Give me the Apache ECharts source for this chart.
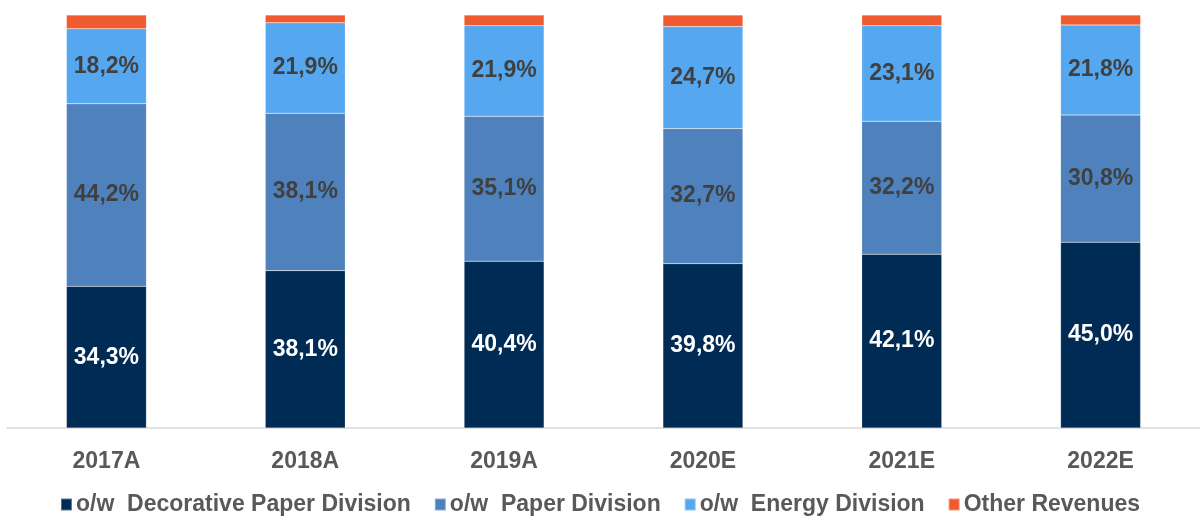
<!DOCTYPE html>
<html>
<head>
<meta charset="utf-8">
<style>
  html, body { margin: 0; padding: 0; background: #fff; }
  #chart { width: 1200px; height: 516px; }
</style>
<script src="https://cdn.jsdelivr.net/npm/echarts@6/dist/echarts.min.js"></script>
</head>
<body>
<div id="chart"></div>
<script>
// Revenue mix by division, share of total (%)
const years = ['2017A', '2018A', '2019A', '2020E', '2021E', '2022E'];
const decorative = [34.3, 38.1, 40.4, 39.8, 42.1, 45.0];
const paper = [44.2, 38.1, 35.1, 32.7, 32.2, 30.8];
const energy = [18.2, 21.9, 21.9, 24.7, 23.1, 21.8];
const other = [3.3, 1.9, 2.6, 2.8, 2.6, 2.4];

const seriesNames = [
  'o/w  Decorative Paper Division',
  'o/w  Paper Division',
  'o/w  Energy Division',
  'Other Revenues'
];
const colors = ['#002B55', '#4F81BD', '#55A8F0', '#F05A30'];

const fmt = p => p.value.toFixed(1).replace('.', ',') + '%';
const font = 'Liberation Sans, Arial, sans-serif';

function makeSeries(name, data, color, labelColor, showLabel) {
  return {
    name: name,
    type: 'bar',
    stack: 'total',
    data: data,
    barWidth: 80,
    itemStyle: { color: color, borderColor: 'rgba(255,255,255,0.35)', borderWidth: 0.5 },
    label: {
      show: showLabel,
      position: 'inside',
      formatter: fmt,
      color: labelColor,
      fontFamily: font,
      fontWeight: 'bold',
      fontSize: 23
    },
    emphasis: { disabled: true }
  };
}

const chart = echarts.init(document.getElementById('chart'));
chart.setOption({
  animation: false,
  color: colors,
  grid: { left: 7, right: 0, top: 15, bottom: 88, containLabel: false },
  legend: {
    bottom: -5,
    left: 'center',
    itemWidth: 11,
    itemHeight: 12,
    itemGap: 23,
    icon: 'rect',
    textStyle: { color: '#595959', fontFamily: font, fontWeight: 'bold', fontSize: 23, padding: [0, 0, 0, -1] },
    data: seriesNames
  },
  xAxis: {
    type: 'category',
    data: years,
    axisLine: { lineStyle: { color: '#D9D9D9', width: 1.5 } },
    axisTick: { show: false },
    axisLabel: { color: '#595959', fontFamily: font, fontWeight: 'bold', fontSize: 23, margin: 22 }
  },
  yAxis: {
    type: 'value',
    min: 0,
    max: 100,
    show: false,
    splitLine: { show: false }
  },
  series: [
    makeSeries(seriesNames[0], decorative, colors[0], '#FFFFFF', true),
    makeSeries(seriesNames[1], paper, colors[1], '#404040', true),
    makeSeries(seriesNames[2], energy, colors[2], '#404040', true),
    makeSeries(seriesNames[3], other, colors[3], '#404040', false)
  ]
});
</script>
</body>
</html>
